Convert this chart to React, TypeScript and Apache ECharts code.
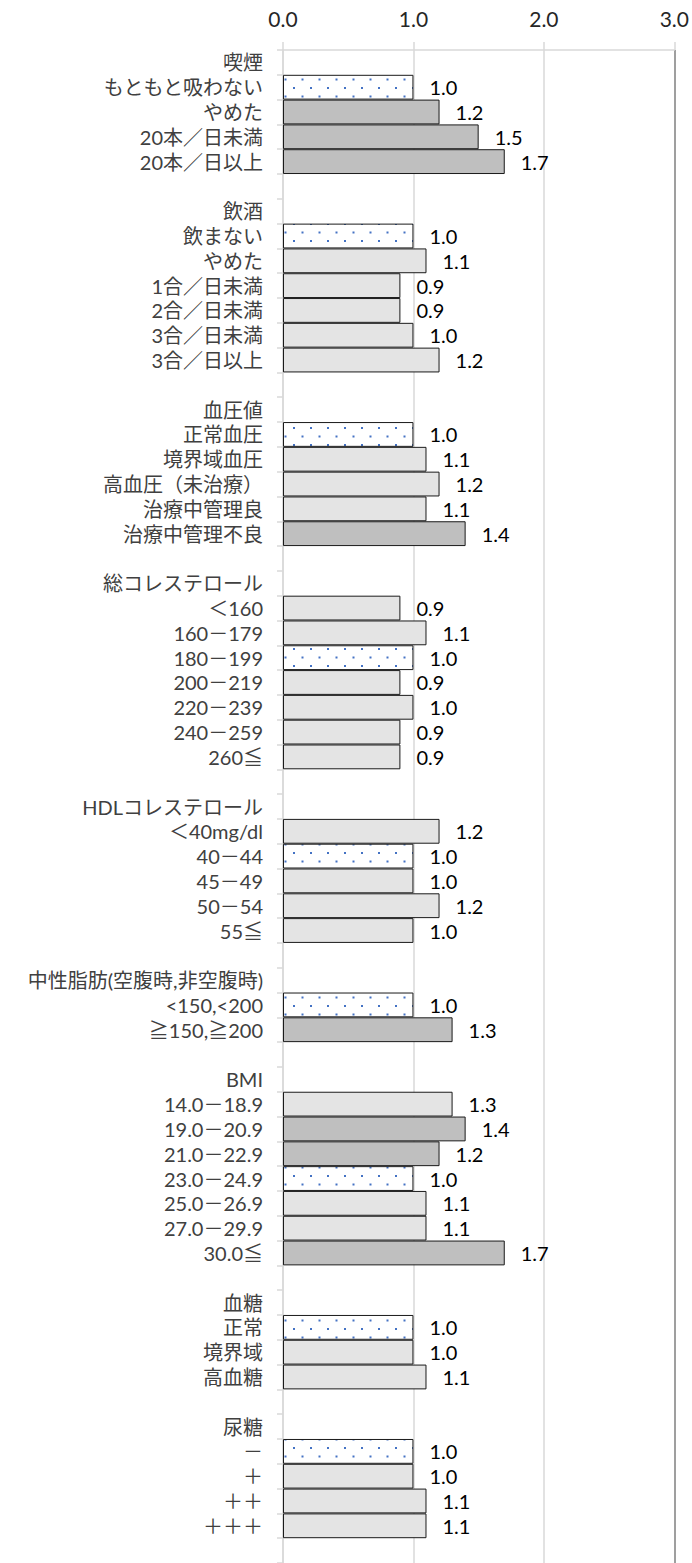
import React, { useEffect, useRef } from "react";
import * as echarts from "echarts";

// ---- data ----
// type: "ref" = reference (dotted), "sig" = dark gray, "ns" = light gray
const smokingTitle = "喫煙";
const smokingLabels = ["もともと吸わない", "やめた", "20本／日未満", "20本／日以上"];
const smokingValues = [1.0, 1.2, 1.5, 1.7];
const smokingTypes = ["ref", "sig", "sig", "sig"];

const drinkingTitle = "飲酒";
const drinkingLabels = ["飲まない", "やめた", "1合／日未満", "2合／日未満", "3合／日未満", "3合／日以上"];
const drinkingValues = [1.0, 1.1, 0.9, 0.9, 1.0, 1.2];
const drinkingTypes = ["ref", "ns", "ns", "ns", "ns", "ns"];

const bpTitle = "血圧値";
const bpLabels = ["正常血圧", "境界域血圧", "高血圧（未治療）", "治療中管理良", "治療中管理不良"];
const bpValues = [1.0, 1.1, 1.2, 1.1, 1.4];
const bpTypes = ["ref", "ns", "ns", "ns", "sig"];

const tcTitle = "総コレステロール";
const tcLabels = ["＜160", "160－179", "180－199", "200－219", "220－239", "240－259", "260≦"];
const tcValues = [0.9, 1.1, 1.0, 0.9, 1.0, 0.9, 0.9];
const tcTypes = ["ns", "ns", "ref", "ns", "ns", "ns", "ns"];

const hdlTitle = "HDLコレステロール";
const hdlLabels = ["＜40mg/dl", "40－44", "45－49", "50－54", "55≦"];
const hdlValues = [1.2, 1.0, 1.0, 1.2, 1.0];
const hdlTypes = ["ns", "ref", "ns", "ns", "ns"];

const tgTitle = "中性脂肪(空腹時,非空腹時)";
const tgLabels = ["<150,<200", "≧150,≧200"];
const tgValues = [1.0, 1.3];
const tgTypes = ["ref", "sig"];

const bmiTitle = "BMI";
const bmiLabels = ["14.0－18.9", "19.0－20.9", "21.0－22.9", "23.0－24.9", "25.0－26.9", "27.0－29.9", "30.0≦"];
const bmiValues = [1.3, 1.4, 1.2, 1.0, 1.1, 1.1, 1.7];
const bmiTypes = ["ns", "sig", "sig", "ref", "ns", "ns", "sig"];

const bsTitle = "血糖";
const bsLabels = ["正常", "境界域", "高血糖"];
const bsValues = [1.0, 1.0, 1.1];
const bsTypes = ["ref", "ns", "ns"];

const usTitle = "尿糖";
const usLabels = ["－", "＋", "＋＋", "＋＋＋"];
const usValues = [1.0, 1.0, 1.1, 1.1];
const usTypes = ["ref", "ns", "ns", "ns"];

const xTicks = [0, 1, 2, 3];

const groups = [
  [smokingTitle, smokingLabels, smokingValues, smokingTypes],
  [drinkingTitle, drinkingLabels, drinkingValues, drinkingTypes],
  [bpTitle, bpLabels, bpValues, bpTypes],
  [tcTitle, tcLabels, tcValues, tcTypes],
  [hdlTitle, hdlLabels, hdlValues, hdlTypes],
  [tgTitle, tgLabels, tgValues, tgTypes],
  [bmiTitle, bmiLabels, bmiValues, bmiTypes],
  [bsTitle, bsLabels, bsValues, bsTypes],
  [usTitle, usLabels, usValues, usTypes],
] as [string, string[], number[], string[]][];

const FONT = "Lato, 'Noto Sans CJK JP', sans-serif";

export default function App() {
  const ref = useRef<HTMLDivElement>(null);
  useEffect(() => {
    document.body.style.margin = "0";
    if (!ref.current) return;

    // dotted pattern
    const pc = document.createElement("canvas");
    pc.width = 17;
    pc.height = 17;
    const ctx = pc.getContext("2d")!;
    ctx.fillStyle = "#ffffff";
    ctx.fillRect(0, 0, 17, 17);
    ctx.fillStyle = "#4472c4";
    ctx.fillRect(4, 2, 2, 2);
    ctx.fillRect(12.5, 10.5, 2, 2);

    const labels: string[] = [];
    const values: (number | null)[] = [];
    const types: string[] = [];
    groups.forEach((g, gi) => {
      if (gi > 0) {
        labels.push("");
        values.push(null);
        types.push("");
      }
      labels.push(g[0]);
      values.push(null);
      types.push("");
      g[1].forEach((l, i) => {
        labels.push(l);
        values.push(g[2][i]);
        types.push(g[3][i]);
      });
    });
    // extra empty row continuing below the page
    labels.push("");
    values.push(null);
    types.push("");

    const rowH = (1542 - 50) / 60;
    const fill = (t: string) =>
      t === "ref"
        ? { image: pc, repeat: "repeat", imageWidth: 17, imageHeight: 17 }
        : t === "sig"
        ? "#bfbfbf"
        : "#e4e4e4";

    const chart = echarts.init(ref.current, null, { renderer: "svg" });
    chart.setOption({
      animation: false,
      grid: { left: 283, right: 13, top: 50, height: rowH * labels.length },
      xAxis: {
        type: "value",
        position: "top",
        min: xTicks[0],
        max: xTicks[xTicks.length - 1],
        interval: 1,
        axisLine: { show: true, lineStyle: { color: "#d9d9d9", width: 1.5 } },
        axisTick: { show: true, length: 8, lineStyle: { color: "#d9d9d9", width: 1.5 } },
        axisLabel: {
          formatter: (v: number) => v.toFixed(1),
          fontSize: 21,
          color: "#262626",
          fontFamily: FONT,
          margin: 21,
        },
        splitLine: {
          show: true,
          lineStyle: { color: ["#d9d9d9", "#d9d9d9", "#d9d9d9", "#7f7f7f"], width: 1.5 },
        },
      },
      yAxis: {
        type: "category",
        inverse: true,
        data: labels.map((_, i) => String(i)),
        axisLine: { show: true, onZero: false, lineStyle: { color: "#d9d9d9", width: 1.5 } },
        axisTick: { show: true, length: 6, lineStyle: { color: "#d9d9d9", width: 1.5 } },
        axisLabel: {
          formatter: (_v: string, i: number) => labels[i],
          fontSize: 20,
          lineHeight: 22,
          color: "#404040",
          fontFamily: FONT,
          margin: 20,
          interval: 0,
        },
        splitLine: { show: false },
      },
      series: [
        {
          type: "bar",
          barCategoryGap: 0,
          data: values.map((v, i) =>
            v == null
              ? null
              : {
                  value: v,
                  itemStyle: { color: fill(types[i]), borderColor: "#1a1a1a", borderWidth: 1 },
                }
          ),
          label: {
            show: true,
            position: "right",
            distance: 16,
            fontSize: 20,
            lineHeight: 22,
            color: "#000",
            fontFamily: FONT,
            formatter: (p: any) => Number(p.value).toFixed(1),
          },
        },
      ],
    });
    return () => chart.dispose();
  }, []);
  return <div ref={ref} style={{ width: 692, height: 1563, position: "absolute", left: 0, top: 0 }} />;
}
